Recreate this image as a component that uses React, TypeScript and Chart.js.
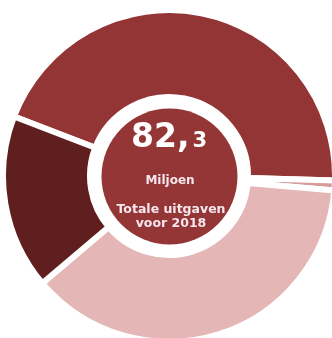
import React, { useEffect, useRef } from "react";
import { Chart, registerables } from "chart.js";

Chart.register(...registerables);

const categories = ["Categorie A", "Categorie B", "Categorie C", "Categorie D"];
const values = [36.7, 0.8, 30.8, 14.0];
const colors = ["#943535", "#d59c9c", "#e4b6b6", "#601f1f"];
const totalLabel = "82,";
const totalDecimal = "3";
const unitLabel = "Miljoen";
const captionLines = ["Totale uitgaven", "voor 2018"];

const centerPlugin = {
  id: "centerCircle",
  afterDraw(chart: any) {
    const meta = chart.getDatasetMeta(0);
    const arc = meta.data[0];
    if (!arc) return;
    const cx = arc.x;
    const cy = arc.y;
    const ctx = chart.ctx;
    ctx.save();
    ctx.beginPath();
    ctx.arc(cx + 0.5, cy + 0.5, 68, 0, Math.PI * 2);
    ctx.fillStyle = "#953636";
    ctx.fill();

    ctx.textBaseline = "alphabetic";
    const bigFont = "bold 33px 'DejaVu Sans'";
    const smallFont = "bold 21px 'DejaVu Sans'";
    ctx.font = bigFont;
    const w1 = ctx.measureText(totalLabel).width;
    ctx.font = smallFont;
    const w2 = ctx.measureText(totalDecimal).width;
    const startX = cx - (w1 + w2 + 3) / 2;
    ctx.fillStyle = "#ffffff";
    ctx.textAlign = "left";
    ctx.font = bigFont;
    ctx.fillText(totalLabel, startX, cy - 29);
    ctx.font = smallFont;
    ctx.fillText(totalDecimal, startX + w1 + 3, cy - 29);

    ctx.textAlign = "center";
    ctx.fillStyle = "#f6e6ee";
    ctx.font = "bold 12px 'DejaVu Sans'";
    ctx.fillText(unitLabel, cx + 1, cy + 7.5);
    ctx.font = "bold 12.5px 'DejaVu Sans'";
    ctx.fillText(captionLines[0], cx + 2, cy + 37);
    ctx.fillText(captionLines[1], cx + 2, cy + 51);
    ctx.restore();
  },
};

export default function App() {
  const ref = useRef<HTMLCanvasElement | null>(null);
  useEffect(() => {
    if (!ref.current) return;
    const chart = new Chart(ref.current, {
      type: "doughnut",
      data: {
        labels: categories,
        datasets: [
          {
            data: values,
            backgroundColor: colors,
            borderColor: "#ffffff",
            borderWidth: 6,
            hoverOffset: 0,
          },
        ],
      },
      options: {
        responsive: false,
        animation: false,
        rotation: 291,
        radius: 166,
        cutout: 79,
        layout: { padding: 0 },
        plugins: {
          legend: { display: false },
          tooltip: { enabled: false },
        },
      },
      plugins: [centerPlugin],
    });
    return () => chart.destroy();
  }, []);
  return (
    <div
      style={{
        position: "fixed",
        left: 0,
        top: 0,
        width: 332,
        height: 338,
        overflow: "hidden",
        background: "#ffffff",
      }}
    >
      <canvas
        ref={ref}
        width={338}
        height={338}
        style={{ position: "absolute", left: 0, top: 7, width: 338, height: 338 }}
      />
    </div>
  );
}
